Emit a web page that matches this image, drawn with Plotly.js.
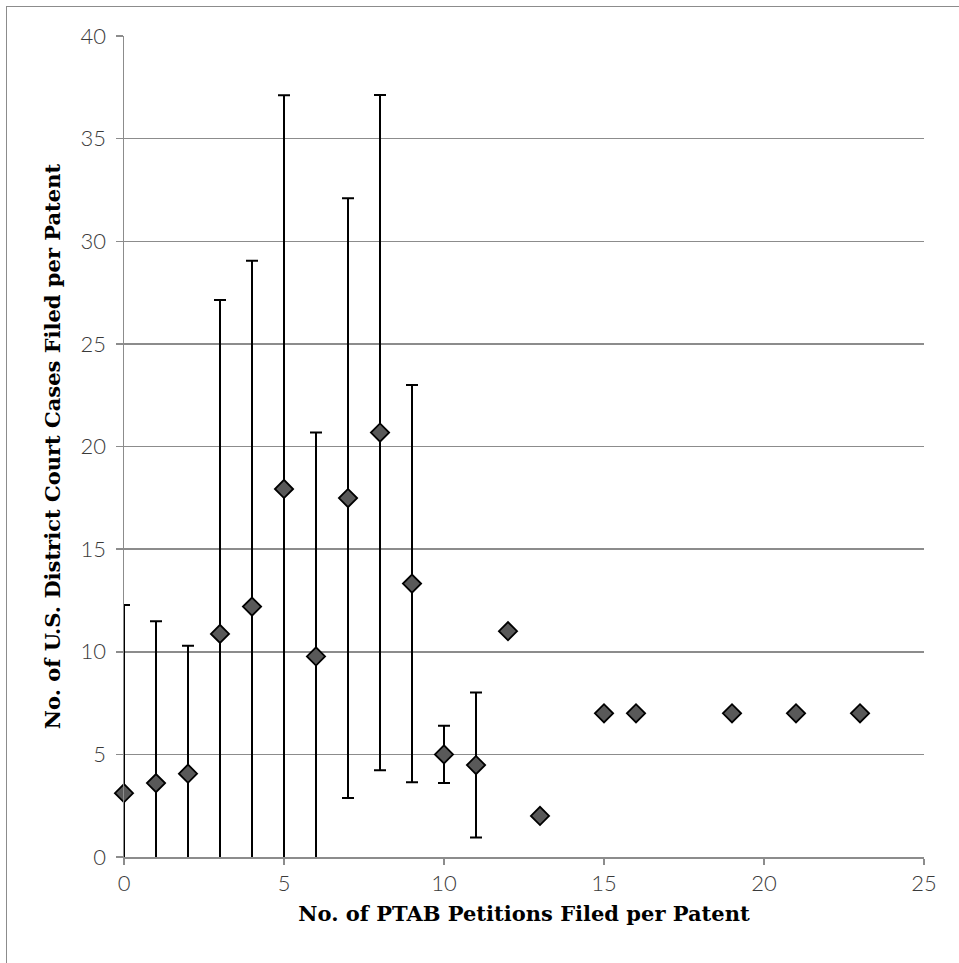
<!DOCTYPE html>
<html>
<head>
<meta charset="utf-8">
<script src="https://cdn.plot.ly/plotly-3.0.1.min.js"></script>
<style>
html,body{margin:0;padding:0;background:#fff;overflow:hidden;}
#frame{position:absolute;left:6px;top:6px;width:1000px;height:1000px;border-left:1.5px solid #8c8c8c;border-top:1.5px solid #8c8c8c;}
#chart{position:absolute;left:0;top:0;width:959px;height:963px;}
</style>
</head>
<body>
<div id="frame"></div>
<div id="chart"></div>
<script>
// Data
const petitions = [0, 1, 2, 3, 4, 5, 6, 7, 8, 9, 10, 11, 12, 13, 15, 16, 19, 21, 23];
const meanCases = [3.11, 3.6, 4.06, 10.87, 12.2, 17.93, 9.77, 17.49, 20.68, 13.32, 5.0, 4.48, 11.0, 2.0, 7.0, 7.0, 7.0, 7.0, 7.0];
const errorCases = [9.17, 7.89, 6.23, 16.27, 16.85, 19.18, 10.91, 14.61, 16.45, 9.68, 1.39, 3.53, 0, 0, 0, 0, 0, 0, 0];
const xTicks = [0, 5, 10, 15, 20, 25];
const yTicks = [0, 5, 10, 15, 20, 25, 30, 35, 40];

const tickFont = {family: 'Lato, "Open Sans", sans-serif', size: 22, color: '#3a3a3a', weight: 300};
const titleFont = {family: '"DejaVu Serif", Georgia, serif', size: 21, color: '#000', weight: 'bold'};

const traces = [
  {
    type: 'scatter', mode: 'markers', x: petitions, y: meanCases,
    marker: {opacity: 0, size: 1},
    error_y: {type: 'data', array: errorCases, symmetric: true, color: '#000', thickness: 2, width: 6},
    cliponaxis: true, hoverinfo: 'skip', showlegend: false
  },
  {
    type: 'scatter', mode: 'markers', x: petitions, y: meanCases,
    marker: {symbol: 'diamond', size: 14, color: '#595959', line: {color: '#000', width: 1.8}},
    cliponaxis: false, showlegend: false
  }
];

const layout = {
  width: 959, height: 963,
  paper_bgcolor: 'rgba(0,0,0,0)', plot_bgcolor: 'rgba(0,0,0,0)',
  margin: {l: 124, r: 35, t: 36, b: 106},
  showlegend: false,
  xaxis: {
    range: [0, 25], tickvals: xTicks, ticktext: xTicks.map(String),
    showgrid: false, zeroline: false,
    showline: true, linecolor: '#8c8c8c', linewidth: 1.5,
    ticks: 'outside', ticklen: 6, tickwidth: 1.5, tickcolor: '#8c8c8c',
    tickfont: tickFont,
    title: {text: 'No. of PTAB Petitions Filed per Patent', font: titleFont, standoff: 11}
  },
  yaxis: {
    range: [0, 40], tickvals: yTicks, ticktext: yTicks.map(String),
    showgrid: true, gridcolor: '#8c8c8c', gridwidth: 1.5, zeroline: false,
    showline: true, linecolor: '#8c8c8c', linewidth: 1.5,
    ticks: 'outside', ticklen: 7, tickwidth: 1.5, tickcolor: '#8c8c8c',
    ticklabelstandoff: 5,
    tickfont: tickFont,
    title: {text: 'No. of U.S. District Court Cases Filed per Patent', font: titleFont, standoff: 14}
  }
};

Plotly.newPlot('chart', traces, layout, {displayModeBar: false, staticPlot: true});
</script>
</body>
</html>
